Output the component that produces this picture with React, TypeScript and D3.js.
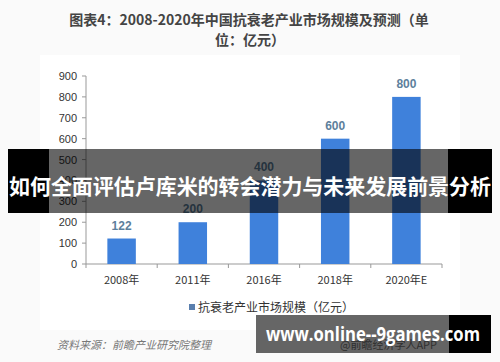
import * as d3 from "d3";

const years = ["2008年", "2011年", "2016年", "2018年", "2020年E"];
const values = [122, 200, 400, 600, 800];
const yTicks = [0, 100, 200, 300, 400, 500, 600, 700, 800, 900];

const W = 500;
const H = 362;
const left = 86;
const right = 442;
const top = 76;
const bottom = 264;

const App = () => {
  const x = d3.scaleBand().domain(years).range([left, right]).paddingInner(0.6).paddingOuter(0.3);
  const y = d3.scaleLinear().domain([0, 900]).range([bottom, top]);
  const bounds = d3.range(years.length + 1).map((i) => left + ((right - left) * i) / years.length);

  return (
    <svg width={W} height={H} style={{ position: "absolute", left: 0, top: 0, fontFamily: "'Noto Sans CJK SC', sans-serif" }}>
      <rect width={W} height={H} fill="#fafafa" />
      <rect x={40} y={55} width={420} height={275} fill="#ffffff" />

      {/* title */}
      <text x={249} y={25} textAnchor="middle" fontSize={14} fontWeight="bold" fill="#444">
        图表4：2008-2020年中国抗衰老产业市场规模及预测（单
      </text>
      <text x={250} y={45} textAnchor="middle" fontSize={14} fontWeight="bold" fill="#444">
        位：亿元）
      </text>

      {/* y axis */}
      <line x1={left} x2={left} y1={top} y2={bottom} stroke="#999" />
      {yTicks.map((t) => (
        <g key={t}>
          <line x1={left - 4} x2={left} y1={y(t)} y2={y(t)} stroke="#999" />
          <text x={left - 9} y={y(t) + 4} textAnchor="end" fontSize={11} fill="#333" fontFamily="'Liberation Sans', sans-serif">
            {t}
          </text>
        </g>
      ))}

      {/* x axis */}
      <line x1={left} x2={right} y1={bottom} y2={bottom} stroke="#999" />
      {bounds.map((b, i) => (
        <line key={i} x1={b} x2={b} y1={bottom} y2={bottom + 4} stroke="#999" />
      ))}
      {years.map((yr) => (
        <text key={yr} x={x(yr)! + x.bandwidth() / 2} y={bottom + 20} textAnchor="middle" fontSize={11} fill="#333">
          {yr}
        </text>
      ))}

      {/* bars */}
      {years.map((yr, i) => (
        <g key={yr}>
          <rect x={x(yr)} y={y(values[i])} width={x.bandwidth()} height={bottom - y(values[i])} fill="#3f81db" />
          <text x={x(yr)! + x.bandwidth() / 2} y={y(values[i]) - 9} textAnchor="middle" fontSize={12} fontWeight="bold" fill="#5d7f9c" fontFamily="'Liberation Sans', sans-serif">
            {values[i]}
          </text>
        </g>
      ))}

      {/* legend */}
      <rect x={189} y={304} width={6} height={6} fill="#5a7fae" />
      <text x={198} y={312} fontSize={12} fill="#333">抗衰老产业市场规模（亿元）</text>

      {/* source */}
      <text x={57} y={349} fontSize={11} fill="#777" fontStyle="italic">资料来源：前瞻产业研究院整理</text>
      <text x={340} y={349} fontSize={11} fill="#777">@前瞻经济学人APP</text>

      {/* overlay banner 1 */}
      <rect x={8} y={149} width={41} height={64} fill="#000" />
      <rect x={49} y={149} width={399} height={64} fill="#000" opacity={0.6} />
      <rect x={448} y={149} width={44} height={64} fill="#000" />
      <text x={250} y={194} textAnchor="middle" fontSize={21} fontWeight="bold" fill="#fff" textLength={482}>
        如何全面评估卢库米的转会潜力与未来发展前景分析
      </text>

      {/* overlay banner 2 */}
      <rect x={256} y={315} width={193} height={38} fill="#000" opacity={0.6} />
      <rect x={449} y={315} width={42} height={38} fill="#000" />
      <text x={373} y={341} textAnchor="middle" fontSize={19} fontWeight="bold" fill="#fff" fontFamily="'Open Sans', sans-serif" textLength={214} lengthAdjust="spacingAndGlyphs">
        www.online--9games.com
      </text>
    </svg>
  );
};

export default App;
